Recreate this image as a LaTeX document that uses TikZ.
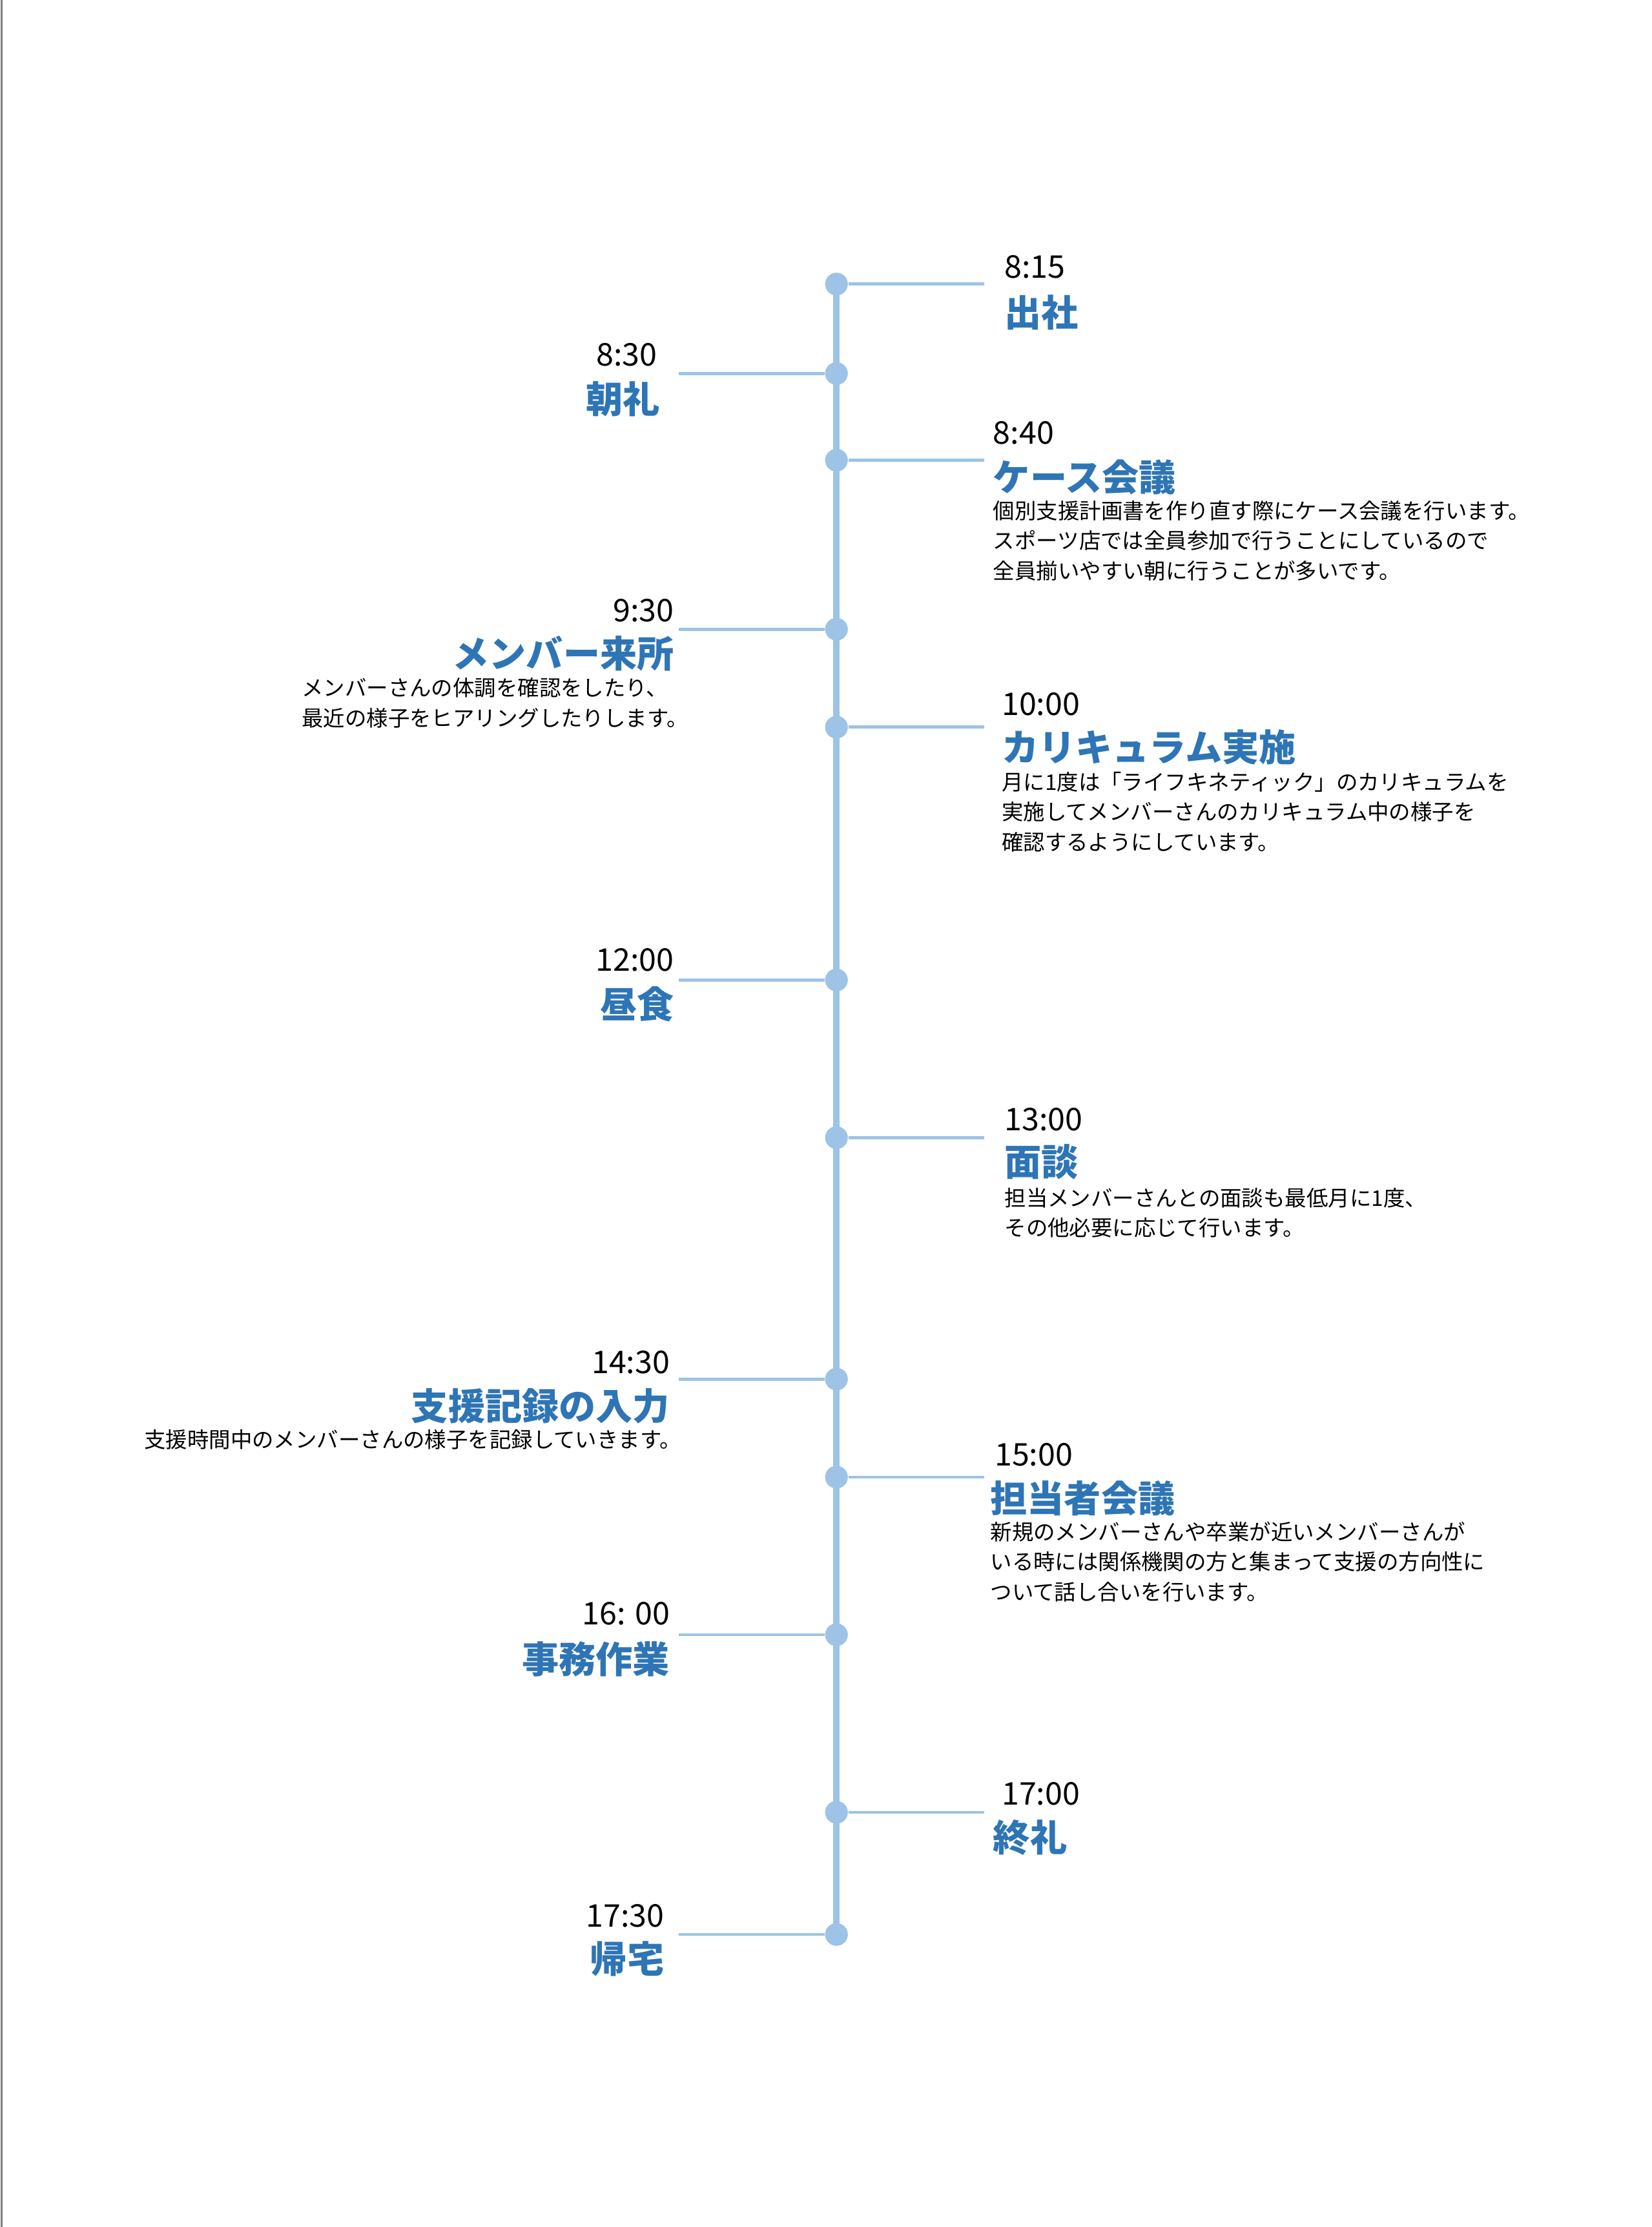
\documentclass[tikz,border=0pt]{standalone}
\usepackage{fontspec}
\setmainfont{Noto Sans CJK JP}
\usepackage{xcolor}
\definecolor{lineblue}{RGB}{157,195,230}
\definecolor{titleblue}{RGB}{46,117,182}
\begin{document}
\begin{tikzpicture}[x=0.5pt,y=-0.5pt,
  dot/.style={circle,fill=lineblue,inner sep=0pt,minimum size=8pt},
  branch/.style={draw=lineblue,line width=1.1pt},
  time/.style={inner sep=0pt,font=\fontsize{11}{13}\selectfont},
  title/.style={inner sep=0pt,text=titleblue,font=\fontsize{13}{15}\selectfont\bfseries},
  desc/.style={inner sep=0pt,align=left,font=\fontsize{7.6}{10.6}\selectfont}]
\useasboundingbox (0,0) rectangle (1163,1568);
%left page edge
\draw[gray,line width=0.6pt] (1,0) -- (1,1568);
%Main axis
\draw[lineblue,line width=2.2pt] (589,200) -- (589,1362);
%Dots
\node[dot] (d1) at (589,200) {};
\node[dot] (d2) at (589,263) {};
\node[dot] (d3) at (589,324) {};
\node[dot] (d4) at (589,443) {};
\node[dot] (d5) at (589,512) {};
\node[dot] (d6) at (589,690) {};
\node[dot] (d7) at (589,801) {};
\node[dot] (d8) at (589,971) {};
\node[dot] (d9) at (589,1040) {};
\node[dot] (d10) at (589,1151) {};
\node[dot] (d11) at (589,1276) {};
\node[dot] (d12) at (589,1362) {};
%Branches
\draw[branch] (d1) -- ++(104,0);
\draw[branch] (d2) -- ++(-111,0);
\draw[branch] (d3) -- ++(104,0);
\draw[branch] (d4) -- ++(-111,0);
\draw[branch] (d5) -- ++(104,0);
\draw[branch] (d6) -- ++(-111,0);
\draw[branch] (d7) -- ++(104,0);
\draw[branch] (d8) -- ++(-111,0);
\draw[branch] (d9) -- ++(104,0);
\draw[branch] (d10) -- ++(-111,0);
\draw[branch] (d11) -- ++(104,0);
\draw[branch] (d12) -- ++(-111,0);
% Text Node
\node[time,anchor=west] (t1) at (707,188) {8:15};
\node[title,anchor=west] (h1) at (707,220) {出社};
\node[time,anchor=east] (t2) at (463,250) {8:30};
\node[title,anchor=east] (h2) at (465,281) {朝礼};
\node[time,anchor=west] (t3) at (699,305) {8:40};
\node[title,anchor=west] (h3) at (699,336) {ケース会議};
\node[desc,anchor=north west] (s3) at (699,352) {個別支援計画書を作り直す際にケース会議を行います。\\スポーツ店では全員参加で行うことにしているので\\全員揃いやすい朝に行うことが多いです。};
\node[time,anchor=east] (t4) at (475,430) {9:30};
\node[title,anchor=east] (h4) at (475,460) {メンバー来所};
\node[desc,anchor=north east] (s4) at (485,477) {メンバーさんの体調を確認をしたり、\\最近の様子をヒアリングしたりします。};
\node[time,anchor=west] (t5) at (705,496) {10:00};
\node[title,anchor=west] (h5) at (705,526) {カリキュラム実施};
\node[desc,anchor=north west] (s5) at (705,543) {月に1度は「ライフキネティック」のカリキュラムを\\実施してメンバーさんのカリキュラム中の様子を\\確認するようにしています。};
\node[time,anchor=east] (t6) at (475,676) {12:00};
\node[title,anchor=east] (h6) at (475,707) {昼食};
\node[time,anchor=west] (t7) at (707,788) {13:00};
\node[title,anchor=west] (h7) at (707,818) {面談};
\node[desc,anchor=north west] (s7) at (707,836) {担当メンバーさんとの面談も最低月に1度、\\その他必要に応じて行います。};
\node[time,anchor=east] (t8) at (472,959) {14:30};
\node[title,anchor=east] (h8) at (472,990) {支援記録の入力};
\node[desc,anchor=north east] (s8) at (480,1006) {支援時間中のメンバーさんの様子を記録していきます。};
\node[time,anchor=west] (t9) at (700,1024) {15:00};
\node[title,anchor=west] (h9) at (697,1055) {担当者会議};
\node[desc,anchor=north west] (s9) at (697,1071) {新規のメンバーさんや卒業が近いメンバーさんが\\いる時には関係機関の方と集まって支援の方向性に\\ついて話し合いを行います。};
\node[time,anchor=east] (t10) at (472,1136) {16: 00};
\node[title,anchor=east] (h10) at (472,1168) {事務作業};
\node[time,anchor=west] (t11) at (705,1263) {17:00};
\node[title,anchor=west] (h11) at (699,1294) {終礼};
\node[time,anchor=east] (t12) at (468,1349) {17:30};
\node[title,anchor=east] (h12) at (468,1379) {帰宅};
\end{tikzpicture}
\end{document}
